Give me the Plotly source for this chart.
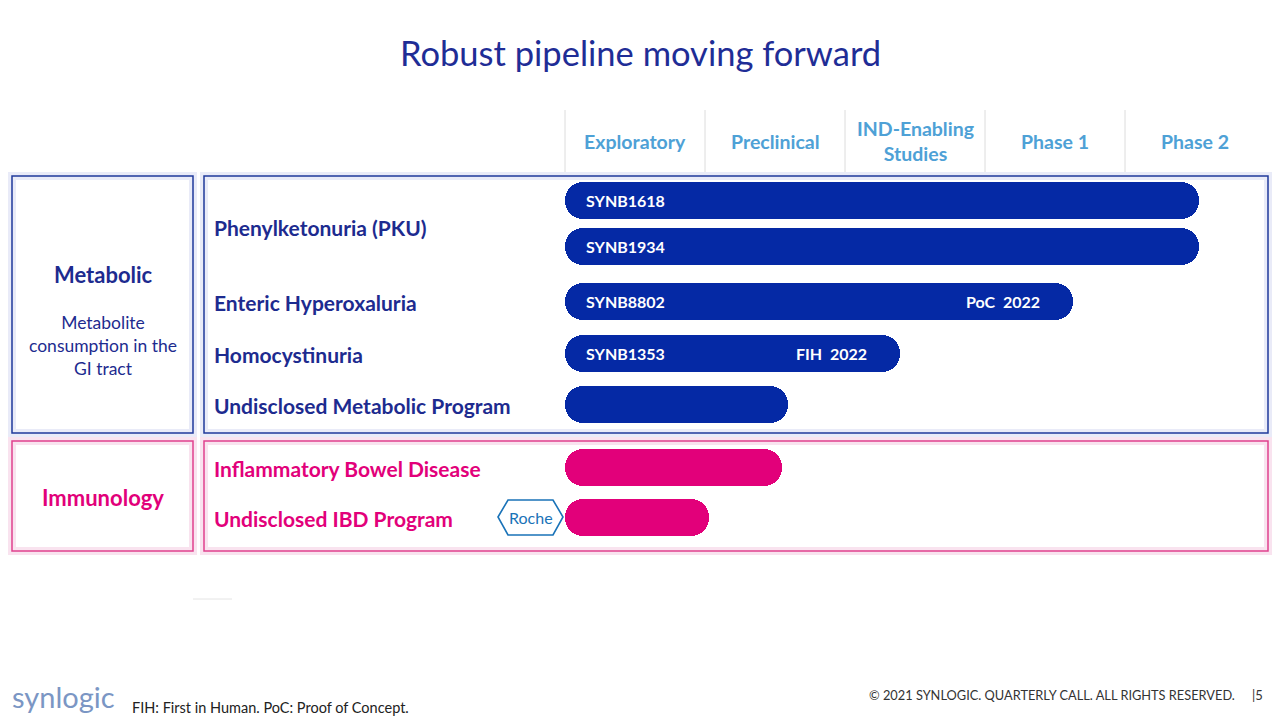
import plotly.graph_objects as go

# ---------------- data ----------------
phases = ["Exploratory", "Preclinical", "IND-Enabling<br>Studies", "Phase 1", "Phase 2"]
indications = ["Phenylketonuria (PKU)", "Enteric Hyperoxaluria", "Homocystinuria",
               "Undisclosed Metabolic Program", "Inflammatory Bowel Disease", "Undisclosed IBD Program"]
programs = ["SYNB1618", "SYNB1934", "SYNB8802", "SYNB1353", "", "", ""]
progress = [4.53, 4.53, 3.63, 2.39, 1.59, 1.55, 1.03]   # in phase units
milestones = ["", "", "PoC  2022", "FIH  2022", "", "", ""]
areas = ["Metabolic", "Metabolic", "Metabolic", "Metabolic", "Metabolic", "Immunology", "Immunology"]

# ---------------- layout constants ----------------
W, H = 1280, 720
X0, COLW = 565, 140                      # pixel of phase 0 and width of one phase
bar_y = [200, 246, 301, 353, 404, 467, 517]   # bar centres (px)
ind_y = [227, 302, 354, 405, 468, 518]
BLUE = "#0529a5"
PINK = "#e2007a"
DARK = "#1d2b8f"
HEAD = "#4ea1d6"
FONT = "Lato"

def px(x):
    return x / W

def py(y):
    return 1 - y / H

colors = [BLUE if a == "Metabolic" else PINK for a in areas]

fig = go.Figure()
fig.add_trace(go.Bar(
    y=bar_y, x=progress, base=0, orientation="h", width=37,
    marker=dict(color=colors, cornerradius="50%", line=dict(width=0)),
    hoverinfo="skip", showlegend=False,
))

xr = [-X0 / COLW, (W - X0) / COLW]
fig.update_layout(
    width=W, height=H, margin=dict(l=0, r=0, t=0, b=0),
    paper_bgcolor="white", plot_bgcolor="rgba(0,0,0,0)",
    xaxis=dict(range=xr, visible=False, fixedrange=True),
    yaxis=dict(range=[H, 0], visible=False, fixedrange=True),
    font=dict(family=FONT),
    bargap=0,
)

shapes = []
# boxes with soft glow
def box(x0, y0, x1, y1, col, glow):
    shapes.append(dict(type="rect", xref="paper", yref="paper", x0=px(x0), x1=px(x1), y0=py(y1), y1=py(y0),
                       line=dict(color=glow, width=8), fillcolor="rgba(0,0,0,0)", layer="below"))
    shapes.append(dict(type="rect", xref="paper", yref="paper", x0=px(x0), x1=px(x1), y0=py(y1), y1=py(y0),
                       line=dict(color=col, width=1.5), fillcolor="rgba(0,0,0,0)", layer="below"))

box(12, 176, 193, 433, "#1f3a9a", "#e9ebf8")
box(204, 176, 1268, 433, "#1f3a9a", "#e9ebf8")
box(12, 441, 193, 551, "#e0418f", "#f9e3ef")
box(204, 441, 1268, 551, "#e0418f", "#f9e3ef")

# phase column separators
for i in range(len(phases)):
    shapes.append(dict(type="line", xref="x", yref="y", x0=i, x1=i, y0=110, y1=172,
                       line=dict(color="#dcdcdc", width=1)))
# small grey dash
shapes.append(dict(type="line", xref="paper", yref="paper", x0=px(193), x1=px(232), y0=py(599), y1=py(599),
                   line=dict(color="#e4e4e4", width=1)))
# Roche hexagon
hx = [498, 508, 553, 563, 553, 508]
hy = [517, 500, 500, 517, 535, 535]
path = "M " + " L ".join(f"{px(a)},{py(b)}" for a, b in zip(hx, hy)) + " Z"
shapes.append(dict(type="path", xref="paper", yref="paper", path=path,
                   line=dict(color="#1a73b8", width=1.6), fillcolor="white"))
fig.update_layout(shapes=shapes)

ann = []
def A(text, x, y, size, color, bold=False, xanchor="center", xref="paper", yref="paper", **kw):
    t = f"<b>{text}</b>" if bold else text
    ann.append(dict(text=t, x=x, y=y, xref=xref, yref=yref, showarrow=False, xanchor=xanchor,
                    yanchor="middle", font=dict(size=size, color=color, family=FONT), **kw))

A("Robust pipeline moving forward", px(640), py(53), 34.5, "#1f2d96")
for i, p in enumerate(phases):
    A(p, i + 0.5, 141, 19.5, HEAD, bold=True, xref="x", yref="y")

A("Metabolic", px(103), py(274), 22, DARK, bold=True)
A("Metabolite<br>consumption in the<br>GI tract", px(103), py(345), 17.5, DARK)
A("Immunology", px(103), py(497), 22, PINK, bold=True)

for i, (name, y) in enumerate(zip(indications, ind_y)):
    col = DARK if i < 4 else PINK
    A(name, px(212), py(y), 21, col, bold=True, xanchor="left")

for prog, val, ms, y in zip(programs, progress, milestones, bar_y):
    if prog:
        A(prog, 0, y, 16, "white", bold=True, xanchor="left", xref="x", yref="y", xshift=19)
    if ms:
        A(ms, val, y, 16, "white", bold=True, xanchor="right", xref="x", yref="y", xshift=-31)

A("Roche", px(531), py(517), 16, "#1a73b8")

A("synlogic", px(10), py(696), 29, "#7b96c4", xanchor="left")
A("FIH: First in Human. PoC: Proof of Concept.", px(130), py(707), 14.5, "#222222", xanchor="left")
A("© 2021 SYNLOGIC. QUARTERLY CALL. ALL RIGHTS RESERVED.", px(1237), py(695), 12.8, "#333333", xanchor="right")
A("|5", px(1265), py(695), 13, "#333333", xanchor="right")

fig.update_layout(annotations=ann)
fig.write_html("out.html", config={"displayModeBar": False},
               post_script="document.body.style.margin='0';document.body.style.overflow='hidden';")
